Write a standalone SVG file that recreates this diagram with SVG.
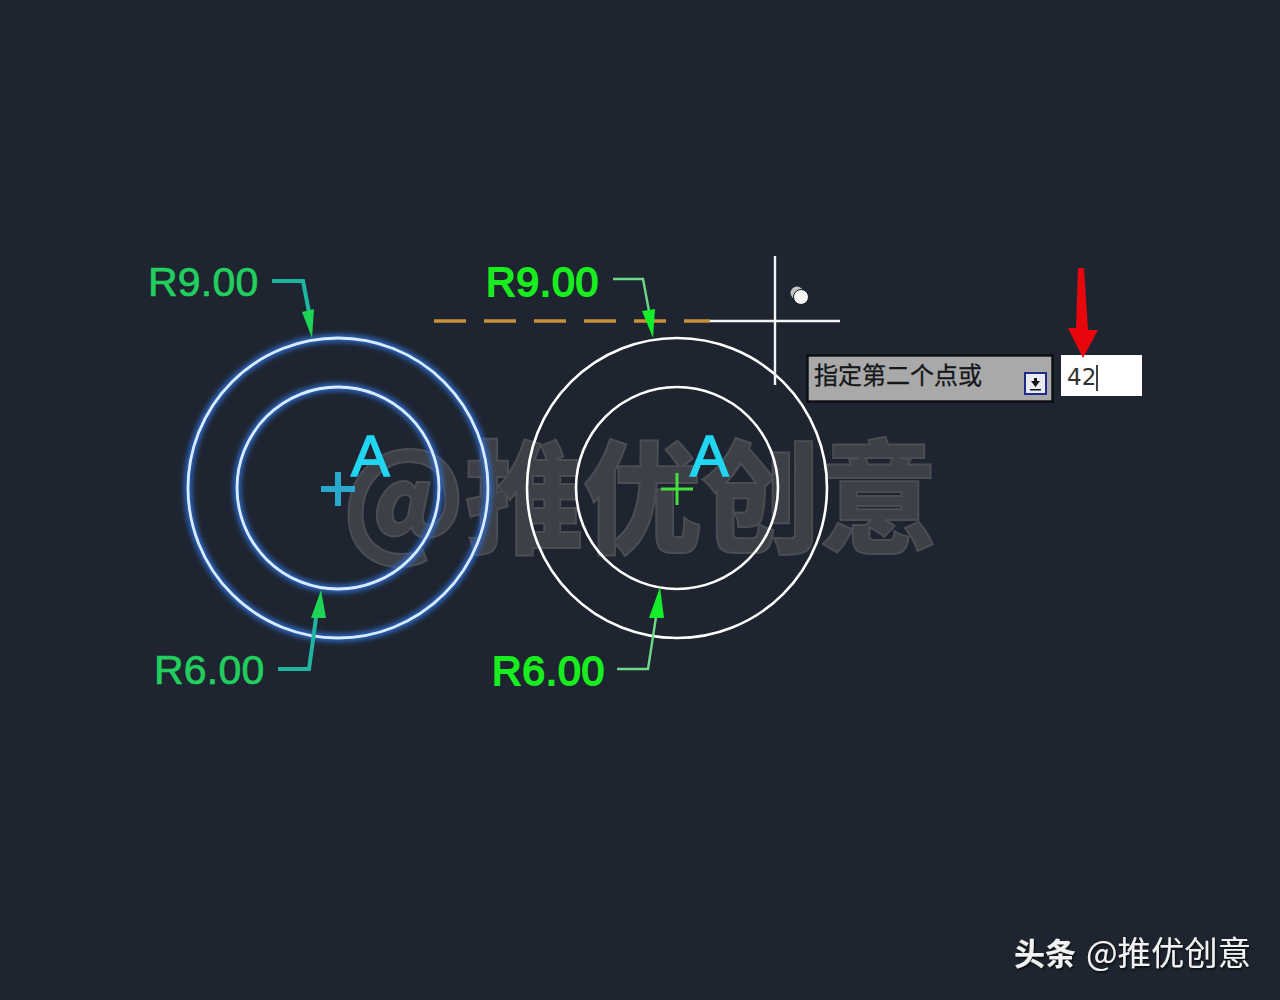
<svg xmlns="http://www.w3.org/2000/svg" width="1280" height="1000" viewBox="0 0 1280 1000">
<defs>
<filter id="blur" x="-20%" y="-20%" width="140%" height="140%"><feGaussianBlur stdDeviation="2.6"/></filter>
<filter id="soft" x="-10%" y="-10%" width="120%" height="120%"><feGaussianBlur stdDeviation="0.5"/></filter>
<filter id="shadow" x="-10%" y="-20%" width="120%" height="140%"><feDropShadow dx="1" dy="1.5" stdDeviation="0.8" flood-color="#000" flood-opacity="0.8"/></filter>
</defs>
<style>
.ring{fill:none;stroke:#ffffff;stroke-width:2.6}
.ringL{fill:none;stroke:#d8ecff;stroke-width:2.8}
.glow{fill:none;stroke:#2f6fd8;stroke-width:8;opacity:.85}
.dimL{font:41px "Liberation Sans",sans-serif;fill:#22cf5e;stroke:#22cf5e;stroke-width:.7;letter-spacing:.2px}
.dimR{font:41px "Liberation Sans",sans-serif;fill:#18ee1e;stroke:#18ee1e;stroke-width:1.8;letter-spacing:.7px}
.A{font:58px "Liberation Sans",sans-serif;fill:#22d6f2;stroke:#22d6f2;stroke-width:1.4}
.leadL{fill:none;stroke:#1fb5a0;stroke-width:4}
.leadR{fill:none;stroke:#6fd98a;stroke-width:2.4}
.headL{fill:#1ed455}
.headR{fill:#14ee2a}
.cjk{font-family:"Noto Sans CJK SC","Liberation Sans",sans-serif}
</style>
<rect id="background" width="1280" height="1000" fill="#1e2530"/>
<g id="watermark" filter="url(#soft)"><text class="cjk" x="342" y="543" font-size="122" font-weight="900" textLength="596" lengthAdjust="spacingAndGlyphs" fill="#3e4047" stroke="#4c4e55" stroke-width="2">@推优创意</text></g>
<g id="circle-left">
<g filter="url(#blur)"><circle class="glow" cx="338" cy="488" r="150"/><circle class="glow" cx="338" cy="488" r="101"/></g>
<circle class="ringL" cx="338" cy="488" r="150"/><circle class="ringL" cx="338" cy="488" r="101"/>
<path d="M321 489H355M338 472V506" stroke="#2aa8cc" stroke-width="6" fill="none"/>
<text class="A" x="351" y="476">A</text>
</g>
<g id="circle-right">
<circle class="ring" cx="677" cy="488" r="150"/><circle class="ring" cx="677" cy="488" r="101"/>
<path d="M661 489H693M677 473V505" stroke="#46e03c" stroke-width="3" fill="none"/>
<text class="A" x="690" y="476">A</text>
</g>
<g id="cursor">
<path d="M434 321H710" stroke="#c8913a" stroke-width="3.4" stroke-dasharray="32 18" fill="none"/>
<path d="M710 321H840M775 256V385" stroke="#f2f4f6" stroke-width="2.4" fill="none"/>
<circle cx="797" cy="293" r="6.500" fill="#c4c4c4"/><circle cx="801" cy="297" r="7.500" fill="#f6f6f6" stroke="#15181e" stroke-width="1"/>
</g>
<g id="connectors">
<path class="leadL" d="M272 281H303L309 312"/><path class="headL" d="M312 338L302 312L314 309Z"/>
<path class="leadR" d="M613 279H643L649 311"/><path class="headR" d="M653 338L642 311L655 309Z"/>
<path class="leadL" d="M278 669H309L316 618"/><path class="headL" d="M321 590L311 618L326 618Z"/>
<path class="leadR" d="M617 669H648L656 617"/><path class="headR" d="M660 587L649 618L664 618Z"/>
</g>
<g id="dim-labels">
<text class="dimL" x="148" y="296">R9.00</text>
<text class="dimR" x="486" y="296">R9.00</text>
<text class="dimL" x="154" y="684">R6.00</text>
<text class="dimR" x="492" y="685">R6.00</text>
</g>
<g id="tooltip">
<rect x="807.500" y="355.500" width="245" height="46" fill="#a9a9a9" stroke="#0c0e12" stroke-width="2.4"/>
<text class="cjk" x="814" y="384" font-size="24" fill="#15171a" stroke="#15171a" stroke-width=".3">指定第二个点或</text>
<rect x="1025" y="373" width="21" height="21" fill="#e9ebf0" stroke="#1d2c8a" stroke-width="2"/>
<path d="M1031 381H1040L1035.500 387Z M1034 378H1037V382H1034Z M1030 389H1041V390.500H1030Z" fill="#111"/>
</g>
<g id="input">
<rect x="1061" y="355" width="81" height="41" fill="#fff"/>
<text x="1067" y="385" font-family="'DejaVu Sans',sans-serif" font-size="23" fill="#333">42</text>
<path d="M1097 365V391" stroke="#111" stroke-width="1.600"/>
</g>
<g id="red-arrow"><path d="M1078 268H1084L1088 330H1098L1083 358L1068 328H1076Z" fill="#e6060c"/></g>
<g id="credit" filter="url(#shadow)" fill="#f2f2f2">
<text class="cjk" x="1014" y="965" font-size="31" font-weight="700">头条</text>
<text class="cjk" x="1086" y="965" font-size="33.400">@推优创意</text>
</g>
</svg>
